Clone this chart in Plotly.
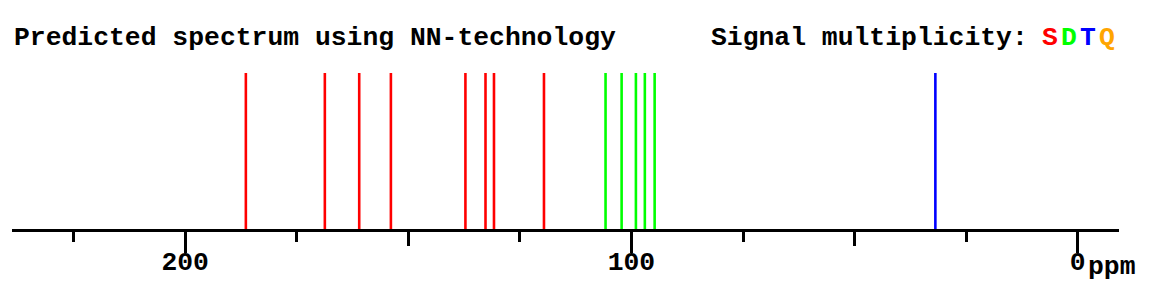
import plotly.graph_objects as go

# Predicted 13C shifts (ppm) and multiplicity
shifts_S = [186.4, 168.7, 161.0, 153.9, 137.2, 132.7, 130.8, 119.6]
shifts_D = [105.8, 102.2, 99.0, 97.0, 94.8]
shifts_T = [31.9]
shifts_Q = []
intensity = 1.0

major_ticks = [0, 100, 200]
major_labels = ["0", "100", "200"]
mid_ticks = [50, 150]
minor_ticks = [25, 75, 125, 175, 225]

colors = {"S": "#ff0000", "D": "#00ff00", "T": "#0000ff", "Q": "#ffa500"}
FONT = "Liberation Mono"
FS = 26.4

W, H = 1173, 290
L, R, T, B = 12, 54, 73, 61
xr = [238.8, -9.25]

fig = go.Figure()
for key, vals in (("S", shifts_S), ("D", shifts_D), ("T", shifts_T), ("Q", shifts_Q)):
    xs, ys = [], []
    for v in vals:
        xs += [v, v, None]
        ys += [0, intensity, None]
    if xs:
        fig.add_trace(go.Scatter(x=xs, y=ys, mode="lines",
                                 line=dict(color=colors[key], width=2.6),
                                 hoverinfo="skip", showlegend=False))

# invisible trace for overlay axis
fig.add_trace(go.Scatter(x=[0], y=[0], xaxis="x2", mode="markers",
                         marker=dict(opacity=0), showlegend=False, hoverinfo="skip"))

fig.update_layout(
    width=W, height=H,
    margin=dict(l=L, r=R, t=T, b=B, autoexpand=False),
    paper_bgcolor="white", plot_bgcolor="white",
    xaxis=dict(range=xr, showgrid=False, zeroline=False, automargin=False,
               showline=True, linecolor="black", linewidth=2.6,
               tickmode="array", tickvals=major_ticks, ticktext=major_labels,
               ticks="outside", ticklen=21, tickwidth=3.2, tickcolor="black",
               ticklabelstandoff=-14,
               minor=dict(tickmode="array", tickvals=minor_ticks, ticks="outside",
                          ticklen=10, tickwidth=3.2, tickcolor="black", showgrid=False),
               tickfont=dict(family=FONT, size=FS, color="black", weight="bold")),
    xaxis2=dict(range=xr, overlaying="x", anchor="y", side="bottom", automargin=False,
                showgrid=False, zeroline=False, showline=False,
                tickmode="array", tickvals=mid_ticks, showticklabels=False,
                ticks="outside", ticklen=16, tickwidth=3.2, tickcolor="black"),
    yaxis=dict(range=[0, 1], visible=False, fixedrange=True, automargin=False),
    showlegend=False,
)

pw = W - L - R
ph = H - T - B
def px(xpix):
    return (xpix - L) / pw
def py(ypix):
    return (H - B - ypix) / ph

fig.add_annotation(text="<b>Predicted spectrum using NN-technology</b>",
                   xref="paper", yref="paper", x=px(12), y=py(38),
                   xanchor="left", yanchor="middle", showarrow=False,
                   font=dict(family=FONT, size=FS, color="black"))
fig.add_annotation(text="<b>Signal multiplicity:</b>",
                   xref="paper", yref="paper", x=px(709), y=py(38),
                   xanchor="left", yanchor="middle", showarrow=False,
                   font=dict(family=FONT, size=FS, color="black"))
for i, key in enumerate(["S", "D", "T", "Q"]):
    fig.add_annotation(text="<b>%s</b>" % key,
                       xref="paper", yref="paper", x=px(1049.5 + i * 19.2), y=py(38),
                       xanchor="center", yanchor="middle", showarrow=False,
                       font=dict(family=FONT, size=FS, color=colors[key]))
fig.add_annotation(text="<b>ppm</b>", xref="x", yref="paper", x=0, xshift=8,
                   y=py(267), xanchor="left", yanchor="middle", showarrow=False,
                   font=dict(family=FONT, size=FS, color="black"))

fig.write_html("out.html")
